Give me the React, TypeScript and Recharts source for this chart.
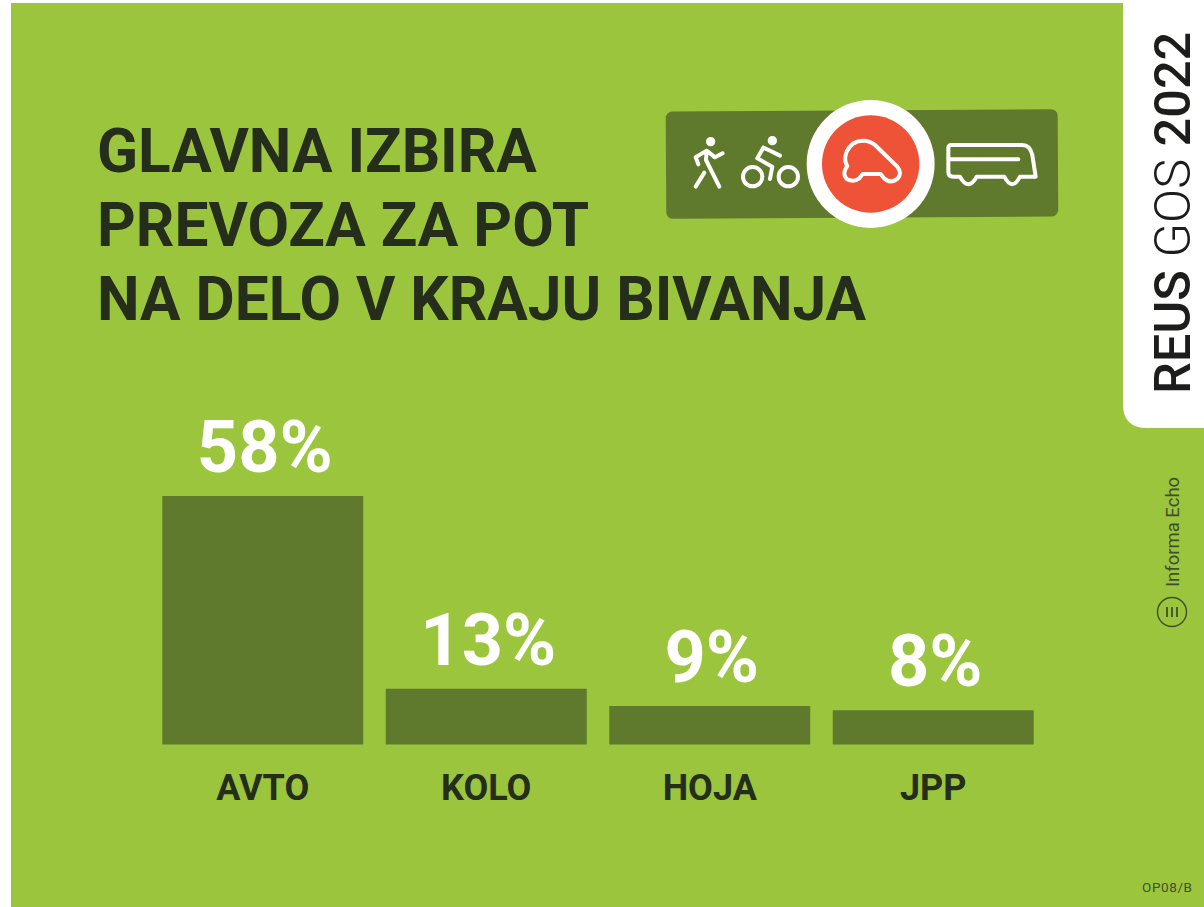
import { Bar, BarChart, LabelList, XAxis, YAxis } from "recharts";

const categories = ["AVTO", "KOLO", "HOJA", "JPP"];
const shares = [58, 13, 9, 8];
const titleLines = ["GLAVNA IZBIRA", "PREVOZA ZA POT", "NA DELO V KRAJU BIVANJA"];

const data = categories.map((name, i) => ({ name, share: shares[i] }));

const GREEN = "#9bc53d";
const DARK_GREEN = "#5f7a2c";
const INK = "#252d1b";

function TransportIcons() {
  return (
    <svg width={1204} height={907} style={{ position: "absolute", left: 0, top: 0 }}>
      {/* icons are traced in 3x crop coordinates */}
      <g transform="translate(650 90) scale(0.3333)">
        <g transform="rotate(-0.35 636 222)">
          <rect x={48} y={61} width={1176} height={322} rx={20} fill={DARK_GREEN} />
        </g>
        <circle cx={662} cy={222} r={192} fill="#fff" />
        <circle cx={662} cy={222} r={146} fill="#ee5237" />
      </g>
      <g fill="none" stroke="#fff" strokeWidth={12} strokeLinecap="round" strokeLinejoin="round">
        <g transform="translate(680 125) scale(0.3333)">
          <path d="M47 97 L80 77 L105 97 L128 85 M47 97 L55 118 M80 77 L78 105 L118 185 M73 143 L47 185" />
          <circle cx={218} cy={155} r={29} />
          <circle cx={325} cy={155} r={29} />
          <path d="M250 68 L232 100 L277 125 L270 162 M250 68 L272 78 L300 92" />
          <circle cx={92} cy={50} r={8} fill="#fff" />
          <circle cx={277} cy={47} r={8} fill="#fff" />
        </g>
        <g transform="translate(810 110) scale(0.3333)">
          <path d="M110 125 Q125 92 160 92 Q180 92 195 105 L262 170 Q278 190 262 207 Q240 222 222 205 L212 192 H158 L148 205 Q130 218 110 207 Q95 190 112 168 Q100 150 110 125 Z" />
        </g>
        <g transform="translate(935 125) scale(0.3333)">
          <path d="M50 60 H262 Q285 60 292 90 L302 155 H255 Q232 200 208 155 H125 Q100 200 75 155 H55 Q40 155 40 140 V70 Q40 60 50 60 Z M45 103 H250" />
        </g>
      </g>
      <path d="M1123 0 H1204 V428 H1147 Q1123 428 1123 404 Z" fill="#fff" />
      <circle cx={1172} cy={612} r={14.5} fill="none" stroke="#3f4f2c" strokeWidth={1.4} />
      <path d="M1167 607 V617 M1172 607 V617 M1177 607 V617" stroke="#3f4f2c" strokeWidth={1.8} />
      <text
        transform="translate(1190 394) rotate(-90)"
        fontFamily="Roboto"
        fontSize={50.5}
        fill="#1d1d1b"
      >
        <tspan fontWeight={500}>REUS </tspan>
        <tspan fontWeight={300}>GOS </tspan>
        <tspan fontWeight={500}>2022</tspan>
      </text>
      <text
        transform="translate(1179 587) rotate(-90)"
        fontFamily="Roboto"
        fontWeight={400}
        fontSize={18.5}
        fill="#3f4f2c"
      >
        Informa Echo
      </text>
      <text x={1142} y={892} fontFamily="Roboto" fontSize={13.5} letterSpacing={0.6} fill="#3f4f2c">
        OP08/B
      </text>
      {titleLines.map((line, i) => (
        <text
          key={line}
          x={97}
          y={172 + i * 74}
          fontFamily="Roboto"
          fontWeight={700}
          fontSize={60.3}
          fill={INK}
        >
          {line}
        </text>
      ))}
    </svg>
  );
}

export default function App() {
  return (
    <div style={{ position: "fixed", left: 0, top: 0, width: 1204, height: 907, background: "#fff", overflow: "hidden" }}>
      <div style={{ position: "absolute", left: 11, top: 3, width: 1193, height: 904, background: GREEN }} />
      <div style={{ position: "absolute", left: 0, top: 0 }}>
        <BarChart
          width={1204}
          height={907}
          data={data}
          barCategoryGap={11.25}
          margin={{ top: 487.5, right: 159, bottom: 102.5, left: 151 }}
        >
          <XAxis
            dataKey="name"
            height={60}
            axisLine={false}
            tickLine={false}
            tick={{ fontFamily: "Roboto", fontWeight: 700, fontSize: 36, fill: INK }}
            tickMargin={24}
            interval={0}
          />
          <YAxis hide domain={[0, 60]} />
          <Bar dataKey="share" fill={DARK_GREEN} isAnimationActive={false}>
            <LabelList
              dataKey="share"
              position="top"
              offset={24}
              dx={2}
              formatter={(v: number) => `${v}%`}
              style={{ fontFamily: "Roboto", fontWeight: 700, fontSize: 72, fill: "#fff" }}
            />
          </Bar>
        </BarChart>
      </div>
      <TransportIcons />
    </div>
  );
}
